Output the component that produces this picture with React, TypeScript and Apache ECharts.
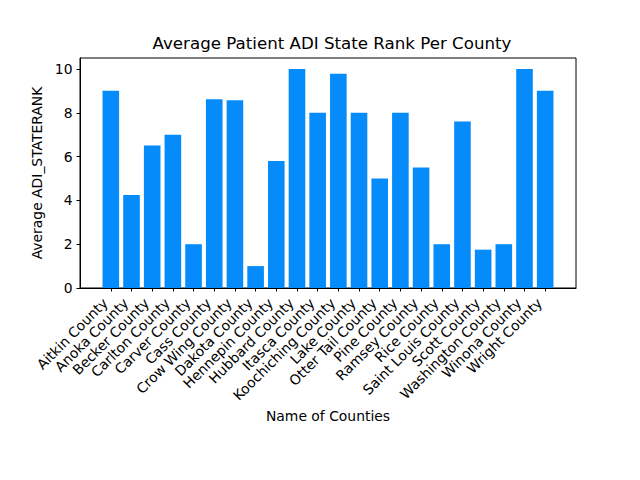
import React, { useEffect, useRef } from "react";
import * as echarts from "echarts";

const counties = [
  "Aitkin County", "Anoka County", "Becker County", "Carlton County", "Carver County",
  "Cass County", "Crow Wing County", "Dakota County", "Hennepin County", "Hubbard County",
  "Itasca County", "Koochiching County", "Lake County", "Otter Tail County", "Pine County",
  "Ramsey County", "Rice County", "Saint Louis County", "Scott County", "Washington County",
  "Winona County", "Wright County",
];
const adiRank = [
  9, 4.25, 6.5, 7, 2, 8.62, 8.57, 1, 5.8, 10, 8, 9.78, 8, 5, 8, 5.5, 2, 7.6, 1.75, 2, 10, 9,
];
const yTicks = [0, 2, 4, 6, 8, 10];

export default function App() {
  const ref = useRef<HTMLDivElement>(null);
  useEffect(() => {
    if (!ref.current) return;
    const chart = echarts.init(ref.current, undefined, { renderer: "svg" });
    const idx = counties.map((_, i) => i);
    const font = "DejaVu Sans";
    chart.setOption({
      animation: false,
      backgroundColor: "#ffffff",
      textStyle: { fontFamily: font },
      title: {
        text: "Average Patient ADI State Rank Per County",
        left: 327,
        top: 30,
        textAlign: "center",
        textStyle: { fontFamily: font, fontSize: 16.67, fontWeight: "normal", color: "#000" },
      },
      grid: {
        left: 80,
        right: 64,
        top: 58,
        bottom: 192,
        show: true,
        borderColor: "#000",
        borderWidth: 1,
        backgroundColor: "transparent",
      },
      xAxis: {
        type: "value",
        min: -1.49,
        max: 22.49,
        name: "Name of Counties",
        nameLocation: "middle",
        nameGap: 121,
        nameTextStyle: { fontFamily: font, fontSize: 13.9, color: "#000" },
        splitLine: { show: false },
        axisLine: { show: true, onZero: false, lineStyle: { color: "#000", width: 1 } },
        axisTick: {
          show: true,
          inside: false,
          length: 3.5,
          lineStyle: { color: "#000" },
          customValues: idx,
        },
        axisLabel: {
          show: true,
          rotate: 45,
          margin: 7,
          padding: [0, 8, 0, 0],
          color: "#000",
          fontFamily: font,
          fontSize: 13.9,
          customValues: idx,
          formatter: (v: number) => counties[Math.round(v)] ?? "",
        },
      },
      yAxis: {
        type: "value",
        min: 0,
        max: 10.5,
        interval: 2,
        name: "Average ADI_STATERANK",
        nameLocation: "middle",
        nameGap: 32,
        nameTextStyle: { fontFamily: font, fontSize: 13.9, color: "#000" },
        splitLine: { show: false },
        axisLine: { show: true, onZero: false, lineStyle: { color: "#000", width: 1 } },
        axisTick: {
          show: true,
          inside: false,
          length: 3.5,
          lineStyle: { color: "#000" },
          customValues: yTicks,
        },
        axisLabel: {
          color: "#000",
          fontFamily: font,
          fontSize: 13.9,
          margin: 7.5,
          customValues: yTicks,
        },
      },
      series: [
        {
          type: "bar",
          data: adiRank.map((v, i) => [i, v]),
          barWidth: 16.6,
          itemStyle: { color: "#068cfa" },
        },
      ],
    });
    return () => chart.dispose();
  }, []);
  return (
    <div
      ref={ref}
      style={{ position: "fixed", left: 0, top: 0, width: 640, height: 480 }}
    />
  );
}
